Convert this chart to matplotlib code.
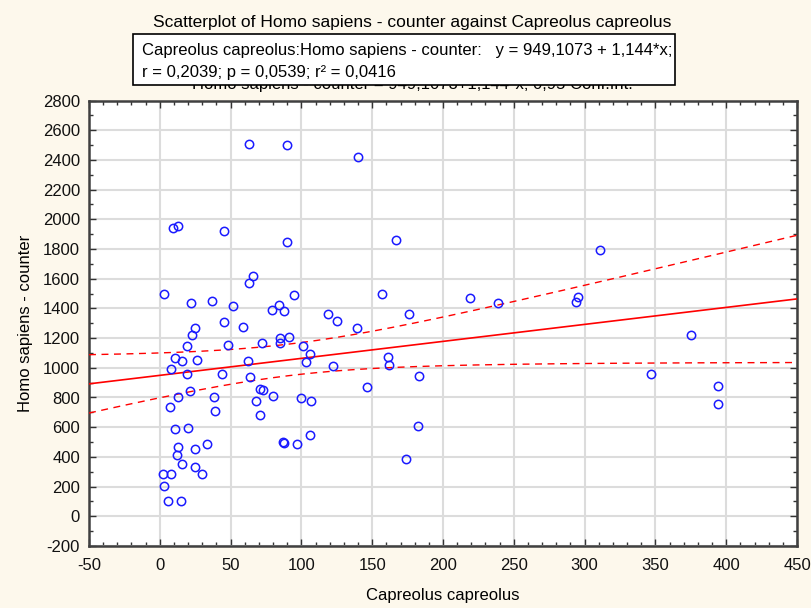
import numpy as np
import matplotlib
matplotlib.use("Agg")
import matplotlib.pyplot as plt
from matplotlib.patches import Rectangle
from matplotlib.ticker import MultipleLocator

plt.rcParams['font.family'] = ['Liberation Sans', 'DejaVu Sans']
plt.rcParams['axes.unicode_minus'] = False

capreolus = [63, 9, 13, 45, 66, 63, 3, 22, 37, 52, 45, 59, 25,
             23, 19, 48, 72, 11, 16, 26, 62, 8, 19, 44, 64, 21, 13,
             71, 73, 38, 68, 7, 39, 71, 11, 20, 13, 33, 12, 25, 16,
             25, 2, 8, 30, 3, 6, 15,
             90, 140, 90, 167, 95, 157, 79, 84, 88, 119, 125, 176, 139,
             85, 91, 85, 101, 106, 103, 122, 161, 162, 183, 146, 80,
             100, 107, 182, 106, 87, 88, 97, 174,
             219, 239, 295, 294, 311, 375, 347, 394, 394]
homo = [2510, 1940, 1955, 1920, 1620, 1570, 1495, 1435, 1450, 1415, 1310, 1275, 1270,
        1220, 1148, 1155, 1165, 1065, 1045, 1055, 1045, 990, 955, 955, 935, 845, 805,
        855, 848, 800, 775, 738, 710, 685, 585, 595, 470, 485, 412, 450, 350,
        332, 287, 287, 285, 205, 105, 100,
        2500, 2420, 1850, 1860, 1490, 1500, 1390, 1420, 1380, 1365, 1318, 1360, 1270,
        1200, 1210, 1165, 1145, 1090, 1038, 1010, 1075, 1022, 945, 872, 810,
        795, 775, 610, 550, 500, 495, 485, 385,
        1470, 1435, 1475, 1445, 1795, 1220, 955, 875, 758]

intercept = 949.1073
slope = 1.144
title = "Scatterplot of Homo sapiens - counter against Capreolus capreolus"
legend_line1 = "Capreolus capreolus:Homo sapiens - counter:   y = 949,1073 + 1,144*x;"
legend_line2 = "r = 0,2039; p = 0,0539; r² = 0,0416"
subtitle = "Homo sapiens - counter = 949,1073+1,144*x; 0,95 Conf.Int."

x = np.array(capreolus, dtype=float)
y = np.array(homo, dtype=float)

# 95% confidence band of the regression line
n = len(x)
resid = y - (intercept + slope * x)
s = np.sqrt(np.sum(resid ** 2) / (n - 2))
sxx = np.sum((x - x.mean()) ** 2)
xs = np.linspace(-50, 450, 200)
fit = intercept + slope * xs
half = 1.987 * s * np.sqrt(1 / n + (xs - x.mean()) ** 2 / sxx)

bg = '#fdf8ec'
fig = plt.figure(figsize=(8.11, 6.08), dpi=100, facecolor=bg)
ax = fig.add_axes([89 / 811, 1 - 546 / 608, 708 / 811, 445.5 / 608])
ax.set_facecolor('white')

ax.plot(xs, fit, color='red', lw=1.2, zorder=3)
ax.plot(xs, fit + half, color='red', lw=1.0, ls=(0, (5, 4)), zorder=3)
ax.plot(xs, fit - half, color='red', lw=1.0, ls=(0, (5, 4)), zorder=3)
ax.plot(x, y, 'o', mfc='none', mec='#1a1aff', ms=6, mew=1.1, zorder=4)

ax.set_xlim(-50, 450)
ax.set_ylim(-200, 2800)
ax.xaxis.set_major_locator(MultipleLocator(50))
ax.xaxis.set_minor_locator(MultipleLocator(10))
ax.yaxis.set_major_locator(MultipleLocator(200))
ax.yaxis.set_minor_locator(MultipleLocator(100))
ax.grid(True, which='major', color='#dcdcdc', lw=1.5, zorder=0)
ax.set_axisbelow(True)
ax.tick_params(which='both', direction='in', top=True, right=True, color='#333333',
               labelsize=12, labelcolor='#111111')
ax.tick_params(axis='x', which='major', pad=8.4)
ax.tick_params(axis='y', which='major', pad=6.5)
ax.tick_params(which='major', length=5, width=1)
ax.tick_params(which='minor', length=3, width=1)
for sp in ax.spines.values():
    sp.set_color('#404040')
    sp.set_linewidth(1.8)

ax.set_xlabel("Capreolus capreolus", fontsize=12, labelpad=11)
ax.set_ylabel("Homo sapiens - counter", fontsize=12, labelpad=7)

fig.text(412 / 811, 1 - 23 / 608, title, ha='center', va='center', fontsize=12.5)
# subtitle sits mostly hidden behind the legend box, as in the reference
fig.text(412 / 811, 1 - 89 / 608, subtitle, ha='center', va='baseline', fontsize=12, zorder=1)
fig.add_artist(Rectangle((133 / 811, 1 - 85 / 608), 542 / 811, 51 / 608,
                         transform=fig.transFigure, facecolor='white',
                         edgecolor='black', lw=1.2, zorder=5))
fig.text(142 / 811, 1 - 50 / 608, legend_line1, ha='left', va='center', fontsize=12, zorder=6)
fig.text(142 / 811, 1 - 72 / 608, legend_line2, ha='left', va='center', fontsize=12, zorder=6)

fig.savefig("out.png", dpi=100, facecolor=bg)
